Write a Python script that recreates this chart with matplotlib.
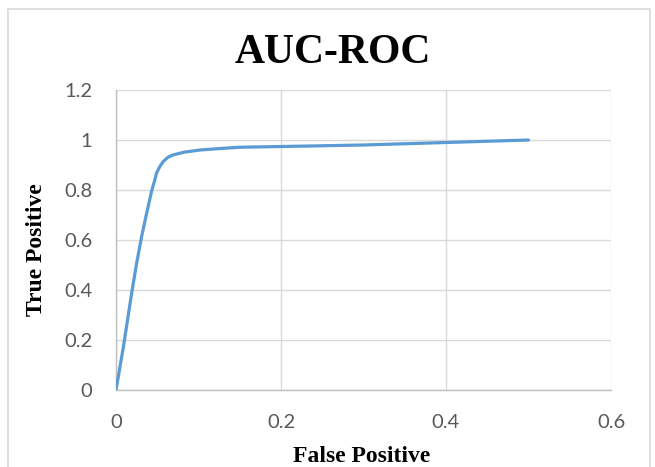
import matplotlib
matplotlib.use("Agg")
import matplotlib.pyplot as plt
from matplotlib.patches import Rectangle

# points
fpr = [0.0, 0.009, 0.019, 0.025, 0.031, 0.037, 0.043, 0.047, 0.049, 0.053,
       0.057, 0.063, 0.069, 0.082, 0.102, 0.122, 0.150, 0.235, 0.300, 0.400, 0.500]
tpr = [0.0, 0.173, 0.388, 0.507, 0.613, 0.705, 0.793, 0.840, 0.867, 0.893,
       0.913, 0.931, 0.940, 0.951, 0.960, 0.965, 0.971, 0.976, 0.980, 0.990, 1.000]

xticks = [0, 0.2, 0.4, 0.6]
xticklabels = ["0", "0.2", "0.4", "0.6"]
yticks = [0, 0.2, 0.4, 0.6, 0.8, 1.0, 1.2]
yticklabels = ["0", "0.2", "0.4", "0.6", "0.8", "1", "1.2"]

W, H = 655, 467
fig = plt.figure(figsize=(W / 100, H / 100), dpi=100)
ax = fig.add_axes([116 / W, 1 - 390 / H, 495 / W, 300 / H])

# outer chart frame (runs off the bottom of the image)
fig.patches.append(Rectangle((8 / W, -0.1), 642 / W, 1.1 - 9 / H,
                             transform=fig.transFigure, fill=False,
                             edgecolor="#d9d9d9", linewidth=1.2))

ax.plot(fpr, tpr, color="#5b9bd5", linewidth=2.3, solid_capstyle="round",
        solid_joinstyle="round", zorder=3)

ax.set_xlim(0, 0.6)
ax.set_ylim(0, 1.2)
ax.set_xticks(xticks)
ax.set_xticklabels(xticklabels)
ax.set_yticks(yticks)
ax.set_yticklabels(yticklabels)
ax.grid(True, color="#d9d9d9", linewidth=1.0)
ax.set_axisbelow(True)
for s in ["top", "right"]:
    ax.spines[s].set_visible(False)
for s in ["left", "bottom"]:
    ax.spines[s].set_color("#bfbfbf")
    ax.spines[s].set_linewidth(1.0)
ax.tick_params(length=0, labelsize=14.5, colors="#595959")
ax.tick_params(axis="x", pad=17)
ax.tick_params(axis="y", pad=17)
for lab in ax.get_xticklabels() + ax.get_yticklabels():
    lab.set_family("Lato")

fig.text(333 / W, 1 - 53 / H, "AUC-ROC", ha="center", va="center",
         family="Liberation Serif", weight="bold", fontsize=30)
fig.text(362 / W, 1 - 456 / H, "False Positive", ha="center", va="center",
         family="Liberation Serif", weight="bold", fontsize=17)
fig.text(37 / W, 1 - 250 / H, "True Positive", ha="center", va="center",
         rotation=90, family="Liberation Serif", weight="bold", fontsize=17)

fig.savefig("out.png", dpi=100)
